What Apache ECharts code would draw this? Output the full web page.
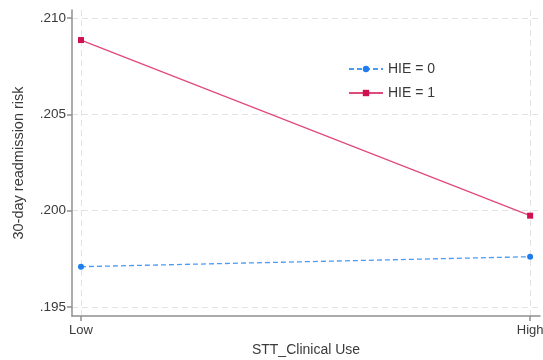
<!DOCTYPE html>
<html>
<head>
<meta charset="utf-8">
<script src="https://cdn.jsdelivr.net/npm/echarts@6/dist/echarts.min.js"></script>
<style>
  html, body { margin: 0; padding: 0; background: #fff; }
  #chart { width: 543px; height: 360px; }
</style>
</head>
<body>
<div id="chart"></div>
<script>
// Predicted 30-day readmission risk by STT clinical use level
const categories = ['Low', 'High'];
const hie0 = [0.19709, 0.19761];
const hie1 = [0.20886, 0.19974];
const yTicks = [0.195, 0.200, 0.205, 0.210];
const seriesNames = ['HIE = 0', 'HIE = 1'];

const fmtY = v => v.toFixed(3).replace(/^0/, '');
const toPoints = arr => arr.map((v, i) => [i, v]);

const axisGray = '#8f8f8f';
const gridStyle = { color: '#e3e3e3', type: [6, 4], width: 1 };
const textGray = '#3a3a3a';

const chart = echarts.init(document.getElementById('chart'));
chart.setOption({
  backgroundColor: '#fff',
  animation: false,
  textStyle: { fontFamily: 'Liberation Sans, Arial, sans-serif' },
  grid: { left: 72, right: 3, top: 10, bottom: 44, containLabel: false, outerBoundsMode: 'none' },
  legend: {
    left: 343, top: 57, orient: 'vertical', itemGap: 10,
    itemWidth: 34, itemHeight: 8,
    textStyle: { fontSize: 14, color: textGray, lineHeight: 14, padding: [0, 0, 0, 0] },
    data: seriesNames
  },
  xAxis: {
    type: 'value', min: -0.02, max: 1.022,
    name: 'STT_Clinical Use', nameLocation: 'middle', nameGap: 27,
    nameTextStyle: { fontSize: 14, color: textGray },
    axisLine: { show: true, onZero: false, lineStyle: { color: axisGray, width: 1.5 } },
    axisTick: { show: true, length: 5, customValues: [0, 1], lineStyle: { color: axisGray, width: 1.5 } },
    axisLabel: {
      customValues: [0, 1], fontSize: 13, color: textGray, margin: 8,
      formatter: v => categories[Math.round(v)] || ''
    },
    splitLine: { show: true, lineStyle: gridStyle }
  },
  yAxis: {
    type: 'value', min: 0.19453, max: 0.21042,
    name: '30-day readmission risk', nameLocation: 'middle', nameGap: 46,
    nameTextStyle: { fontSize: 14.5, color: textGray },
    axisLine: { show: true, onZero: false, lineStyle: { color: axisGray, width: 1.5 } },
    axisTick: { show: true, length: 5, customValues: yTicks, lineStyle: { color: axisGray, width: 1.5 } },
    axisLabel: { customValues: yTicks, fontSize: 13.5, color: textGray, margin: 6, formatter: fmtY },
    splitLine: { show: true, lineStyle: gridStyle }
  },
  series: [
    {
      name: seriesNames[0], type: 'line', data: toPoints(hie0),
      symbol: 'circle', symbolSize: 6,
      lineStyle: { color: '#4b9bf2', width: 1.3, type: [5, 3] },
      itemStyle: { color: '#1f7df0' }
    },
    {
      name: seriesNames[1], type: 'line', data: toPoints(hie1),
      symbol: 'rect', symbolSize: 6,
      lineStyle: { color: '#e04a7a', width: 1.3 },
      itemStyle: { color: '#d0104f' }
    }
  ]
});
</script>
</body>
</html>
